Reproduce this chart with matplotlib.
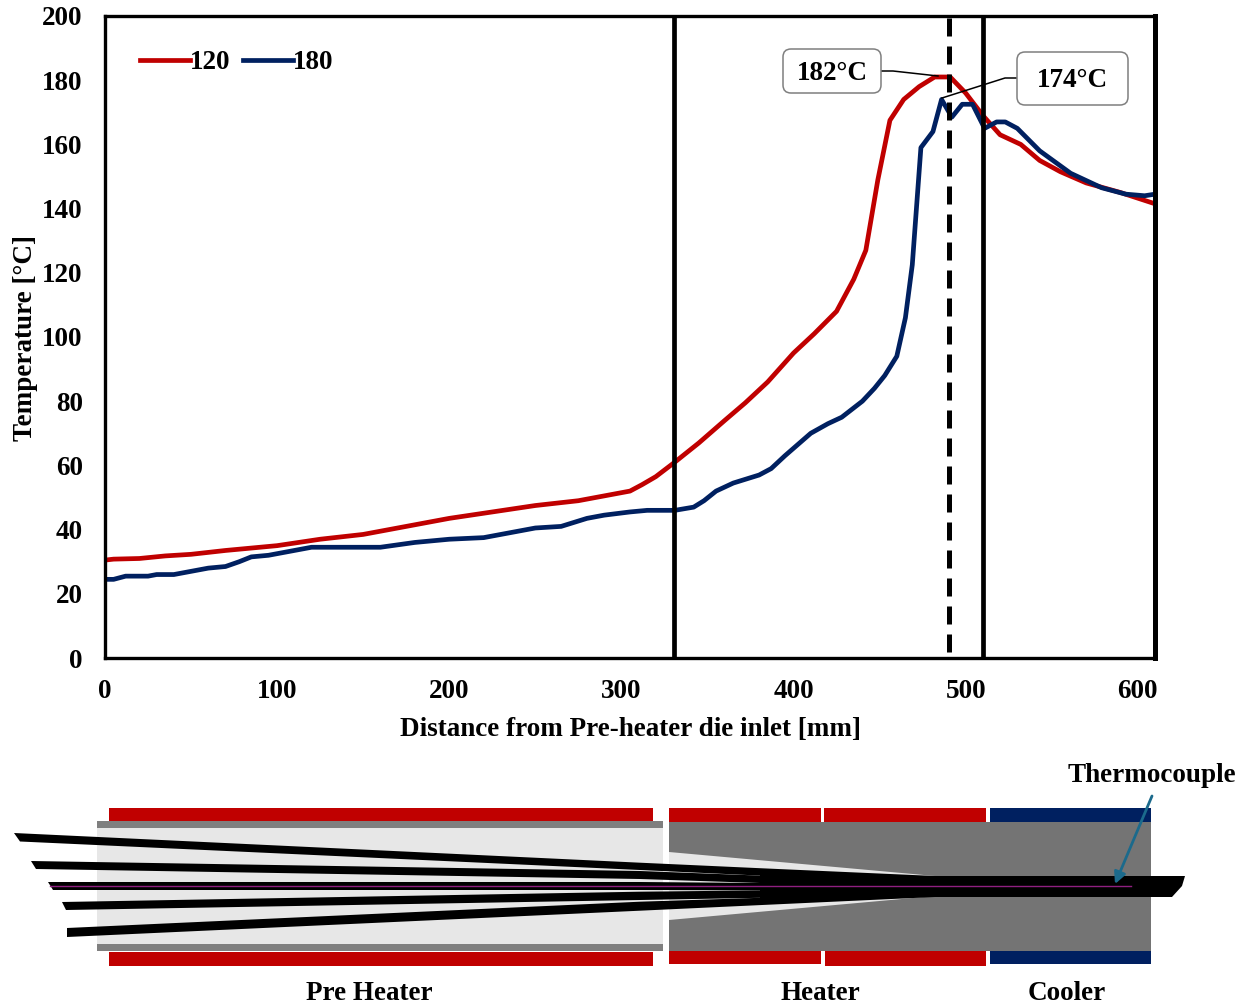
import matplotlib
matplotlib.use('Agg')
import matplotlib.pyplot as plt
from matplotlib.patches import FancyBboxPatch, Polygon, Rectangle

plt.rcParams['font.family'] = ['Liberation Serif', 'DejaVu Serif']
plt.rcParams['font.weight'] = 'bold'

W, H = 1246, 1005

# temperature profiles
x_120 = [0, 5, 20, 35, 50, 70, 100, 125, 150, 175, 200, 225, 250, 275, 290, 305, 312, 320, 331,
         345, 360, 372, 385, 400, 412, 425, 435, 442, 449, 456, 464, 473, 482, 491, 500, 510,
         520, 532, 543, 555, 570, 590, 610]
t_120 = [30.5, 30.8, 31, 31.8, 32.3, 33.5, 35, 37, 38.5, 41, 43.5, 45.5, 47.5, 49, 50.5, 52, 54,
         56.5, 61, 67, 74, 79.5, 86, 95, 101, 108, 118, 127, 149, 167.5, 174, 178, 181, 181,
         176, 169, 163, 160, 155, 151.5, 148, 145, 141.5]
x_180 = [0, 5, 12, 25, 30, 40, 60, 70, 78, 85, 95, 105, 120, 160, 180, 200, 220, 250, 265, 280,
         290, 305, 315, 331, 342, 348, 355, 365, 380, 387, 395, 410, 420, 428, 440, 447, 453,
         460, 465, 469, 474, 481, 486, 492, 498, 504, 511, 518, 523, 530, 543, 561, 579, 593, 604, 610]
t_180 = [24.5, 24.5, 25.5, 25.5, 26, 26, 28, 28.5, 30, 31.5, 32, 33, 34.5, 34.5, 36, 37, 37.5,
         40.5, 41, 43.5, 44.5, 45.5, 46, 46, 47, 49, 52, 54.5, 57, 59, 63, 70, 73, 75, 80, 84,
         88, 94, 106, 122.5, 159, 164, 174, 168.5, 172.5, 172.5, 165, 167, 167, 165, 158, 151,
         146.5, 144.5, 144, 144.5]
zone_lines = [330.5, 510]
tc_line = 490.5
x_ticks = [0, 100, 200, 300, 400, 500, 600]
y_ticks = [0, 20, 40, 60, 80, 100, 120, 140, 160, 180, 200]

RED = '#c00000'
NAVY = '#002060'
FS = 19.5

fig = plt.figure(figsize=(W / 100, H / 100), dpi=100)
ax = fig.add_axes([105 / W, 1 - 658 / H, (1155 - 105) / W, (658 - 16) / H])
ax.plot(x_120, t_120, color=RED, lw=3.4, label='120', solid_joinstyle='round')
ax.plot(x_180, t_180, color=NAVY, lw=3.4, label='180', solid_joinstyle='round')
for v in zone_lines:
    ax.axvline(v, color='black', lw=3.4)
ax.axvline(tc_line, ymin=0.01, color='black', lw=3.6, dashes=(3.6, 2.0))
ax.set_xlim(0, 610)
ax.set_ylim(0, 200)
ax.set_xticks(x_ticks)
ax.set_yticks(y_ticks)
ax.tick_params(length=0, labelsize=FS)
ax.tick_params(axis='x', pad=15)
ax.tick_params(axis='y', pad=16)
for name, sp in ax.spines.items():
    sp.set_linewidth(3.6 if name == 'right' else 2.4)
ax.set_xlabel('Distance from Pre-heater die inlet [mm]', fontsize=FS, fontweight='bold')
ax.set_ylabel('Temperature [°C]', fontsize=FS, fontweight='bold')
ax.xaxis.set_label_coords((630 - 105) / 1050, -(729 - 658) / 642, transform=ax.transAxes)
ax.xaxis.label.set_va('center')
ax.yaxis.set_label_coords((26 - 105) / 1050, (658 - 338) / 642, transform=ax.transAxes)
ax.yaxis.label.set_va('center')
ax.legend(loc='center left', bbox_to_anchor=(35 / 1050, 1 - 47 / 642), frameon=False, ncol=2,
          fontsize=FS, handlelength=1.85, handletextpad=0, columnspacing=0.44, borderpad=0, borderaxespad=0)

# overlay in pixel coordinates for the callouts and the die schematic
ov = fig.add_axes([0, 0, 1, 1])
ov.set_xlim(0, W)
ov.set_ylim(H, 0)
ov.axis('off')
ov.patch.set_alpha(0)

# callouts
callouts = [('182°C', 783, 881, 49, 93, [(881, 71), (893, 71), (938, 76)]),
            ('174°C', 1017, 1128, 52, 105, [(1017, 78), (1005, 78), (942, 98)])]
for label, x0, x1, y0, y1, leader in callouts:
    ov.plot(*zip(*leader), color='black', lw=1.1, zorder=5)
    ov.add_patch(FancyBboxPatch((x0 + 8, y0 + 8), x1 - x0 - 16, y1 - y0 - 16,
                                boxstyle='round,pad=8,rounding_size=8', fc='white', ec='#7f7f7f', lw=1.1, zorder=6))
    ov.text((x0 + x1) / 2, (y0 + y1) / 2 + 2, label, ha='center', va='center', fontsize=FS, zorder=7)

# schematic: (x0, x1, y0, y1, colour)
blocks = [(97, 663, 828, 944, '#e7e7e7'),
          (97, 663, 821, 828, '#7f7f7f'),
          (97, 663, 944, 951, '#7f7f7f'),
          (669, 1151, 822, 951, '#747474'),
          (109, 653, 808, 821, RED),
          (109, 653, 952, 966, RED),
          (669, 821, 808, 822, RED),
          (824, 986, 808, 822, RED),
          (990, 1151, 808, 822, NAVY),
          (669, 821, 951, 964, RED),
          (825, 986, 951, 966, RED),
          (990, 1151, 951, 964, NAVY)]
for x0, x1, y0, y1, c in blocks:
    ov.add_patch(Rectangle((x0, y0), x1 - x0, y1 - y0, fc=c, ec='none'))

taper = [(669, 852), (935, 876), (935, 896), (669, 920)]
ov.add_patch(Polygon(taper, fc='#e7e7e7', ec='none'))

fibres = [[(14, 833), (640, 862.7), (760, 868.2), (760, 875.6), (640, 870), (20, 841.5)],
          [(31, 861), (640, 871), (760, 875.6), (760, 883), (640, 879), (36, 869)],
          [(48, 882), (640, 882), (760, 883), (760, 890.4), (640, 890), (53, 890)],
          [(62, 902), (640, 891.7), (760, 890.4), (760, 897.8), (640, 900), (66, 910)],
          [(67, 928), (640, 901.7), (760, 897.8), (760, 905.1), (640, 910.7), (67, 937)],
          [(760, 868.2), (935, 876), (1185, 876), (1182, 886), (1172, 897), (935, 897), (760, 905.1)]]
for f in fibres:
    ov.add_patch(Polygon(f, fc='black', ec='none'))
ov.plot([50, 1131], [886, 886], color='#8f1f80', lw=1)

ov.annotate('', xy=(1115, 884), xytext=(1152, 796),
            arrowprops=dict(arrowstyle='-|>,head_width=0.35,head_length=0.7', color='#1b6a8c', lw=2,
                            shrinkA=0, shrinkB=0))

for label, x, y in [('Thermocouple', 1152, 775), ('Pre Heater', 369, 993),
                    ('Heater', 820, 993), ('Cooler', 1067, 993)]:
    ov.text(x, y, label, ha='center', va='center', fontsize=FS)

fig.savefig('out.png', dpi=100)
